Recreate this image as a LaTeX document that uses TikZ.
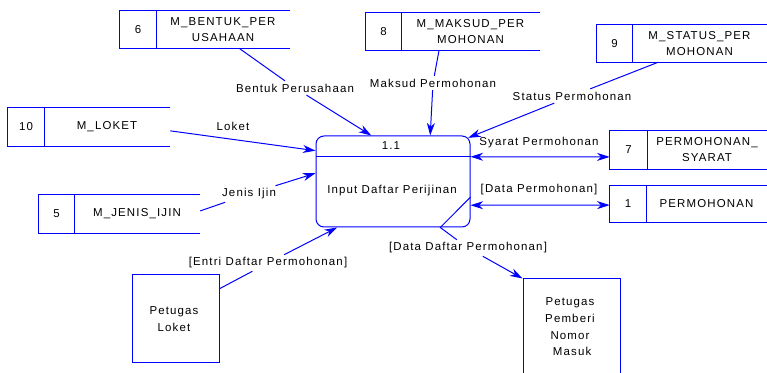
\documentclass[tikz,border=0pt]{standalone}
\usepackage{fontspec}
\setmainfont{Liberation Sans}[LetterSpace=10]
\usetikzlibrary{arrows.meta,calc,fit}
\definecolor{dfdblue}{RGB}{0,0,255}
\tikzset{
 ln/.style={draw=dfdblue, line width=0.75pt},
 tipx/.tip={Stealth[length=9.5pt,width=6pt,inset=3pt]},
 arr/.style={ln, -tipx},
 darr/.style={ln, tipx-tipx},
 lbl/.style={font=\fontsize{8.6}{10}\selectfont, inner sep=2pt},
 txt/.style={font=\fontsize{8.6}{12}\selectfont, inner sep=0pt, align=center},
 bx/.style={inner sep=0pt},
}
\newcommand\dstore[8]{%
  \coordinate (#1-a) at (#2,#3); \coordinate (#1-b) at (#4,#5);
  \node[bx, fit=(#1-a)(#1-b)] (#1) {};
  \draw[ln] (#1.north east) -- (#1.north west) -- (#1.south west) -- (#1.south east);
  \draw[ln] (#6,#3) -- (#6,#5);
  \node[txt] (#1-num) at ({(#2+#6)/2},{(#3+#5)/2}) {#7};
  \node[txt] (#1-txt) at ({(#6+#4)/2},{(#3+#5)/2}) {#8};
}
\begin{document}
\begin{tikzpicture}[x=0.75pt,y=-0.75pt]
\useasboundingbox (0,0) rectangle (767,373);
\clip (0,0) rectangle (767,373);
% data stores
\dstore{s6}{120}{11}{290}{48}{156}{6}{M\_BENTUK\_PER\\USAHAAN}
\dstore{s8}{366}{13}{540}{50}{401}{8}{M\_MAKSUD\_PER\\MOHONAN}
\dstore{s9}{597}{25}{767}{62}{632}{9}{M\_STATUS\_PER\\MOHONAN}
\dstore{s10}{8}{108}{170}{146}{44}{10}{M\_LOKET}
\dstore{s5}{39}{195}{200}{233}{74}{5}{M\_JENIS\_IJIN}
\dstore{s7}{610}{131}{767}{169}{647}{7}{PERMOHONAN\_\\SYARAT}
\dstore{s1}{610}{186}{767}{222}{646}{1}{PERMOHONAN}
% process
\coordinate (p-a) at (316,136); \coordinate (p-b) at (470,227);
\node[bx, fit=(p-a)(p-b), draw=dfdblue, line width=0.75pt, rounded corners=6pt] (p) {};
\draw[ln] ($(p.north west)!0.231!(p.south west)$) -- ($(p.north east)!0.231!(p.south east)$);
\node[txt] (p-id) at (391,146) {1.1};
\node[txt] (p-name) at (392,191) {Input Daftar Perijinan};
% external entities
\coordinate (pl-a) at (132,275); \coordinate (pl-b) at (219,363);
\node[bx, fit=(pl-a)(pl-b), draw=dfdblue, line width=0.75pt] (pl) {};
\node[txt, font=\fontsize{8.6}{12.5}\selectfont] (pl-txt) at (174,319) {Petugas\\Loket};
\coordinate (pn-a) at (523,279); \coordinate (pn-b) at (620,395);
\node[bx, fit=(pn-a)(pn-b), draw=dfdblue, line width=0.75pt] (pn) {};
\node[txt, font=\fontsize{8.6}{12.5}\selectfont] (pn-txt) at (570,327) {Petugas\\Pemberi\\Nomor\\\ Masuk};
% labels
\node[lbl] (l1) at (295,88) {Bentuk Perusahaan};
\node[lbl] (l2) at (433,83) {Maksud Permohonan};
\node[lbl] (l3) at (572,96) {Status Permohonan};
\node[lbl] (l4) at (233,126) {Loket};
\node[lbl] (l5) at (249,194) {Jenis Ijin};
\node[lbl] (l6) at (268,263) {[Entri Daftar Permohonan]};
\node[lbl] (l7) at (539,143) {Syarat Permohonan};
\node[lbl] (l8) at (539,190) {[Data Permohonan]};
\node[lbl] (l9) at (468,248) {[Data Daftar Permohonan]};
% connectors
\draw[ln] ($(s6.south west)!0.70!(s6.south east)$) -- (l1);
\draw[arr] (l1) -- ($(p.north west)!0.36!(p.north east)$);
\draw[ln] ($(s8.south west)!0.42!(s8.south east)$) -- (l2);
\draw[arr] (l2) -- ($(p.north west)!0.74!(p.north east)$);
\draw[ln] ($(s9.south west)!0.36!(s9.south east)$) -- (l3);
\draw[arr] (l3) -- ($(p.north east)+(-2.3,2.3)$);
\draw[arr] ($(s10.north east)!0.6!(s10.south east)$) -- ($(p.north west)!0.165!(p.south west)$);
\draw[ln] ($(s5.north east)!0.42!(s5.south east)$) -- (l5);
\draw[arr] (l5) -- ($(p.north west)!0.41!(p.south west)$);
\draw[ln] ($(pl.north east)!0.16!(pl.south east)$) -- (l6);
\draw[arr] (l6) -- ($(p.south west)!0.14!(p.south east)$);
\draw[darr] ($(p.north east)!0.231!(p.south east)$) -- ($(s7.north west)!0.68!(s7.south west)$);
\draw[darr] ($(p.north east)!0.758!(p.south east)$) -- ($(s1.north west)!0.53!(s1.south west)$);
\coordinate (bend) at ($(p.south west)!0.805!(p.south east)$);
\draw[ln] ($(p.north east)!0.67!(p.south east)$) -- (bend) -- (l9);
\draw[arr] (l9) -- (pn.north west);
\end{tikzpicture}
\end{document}
